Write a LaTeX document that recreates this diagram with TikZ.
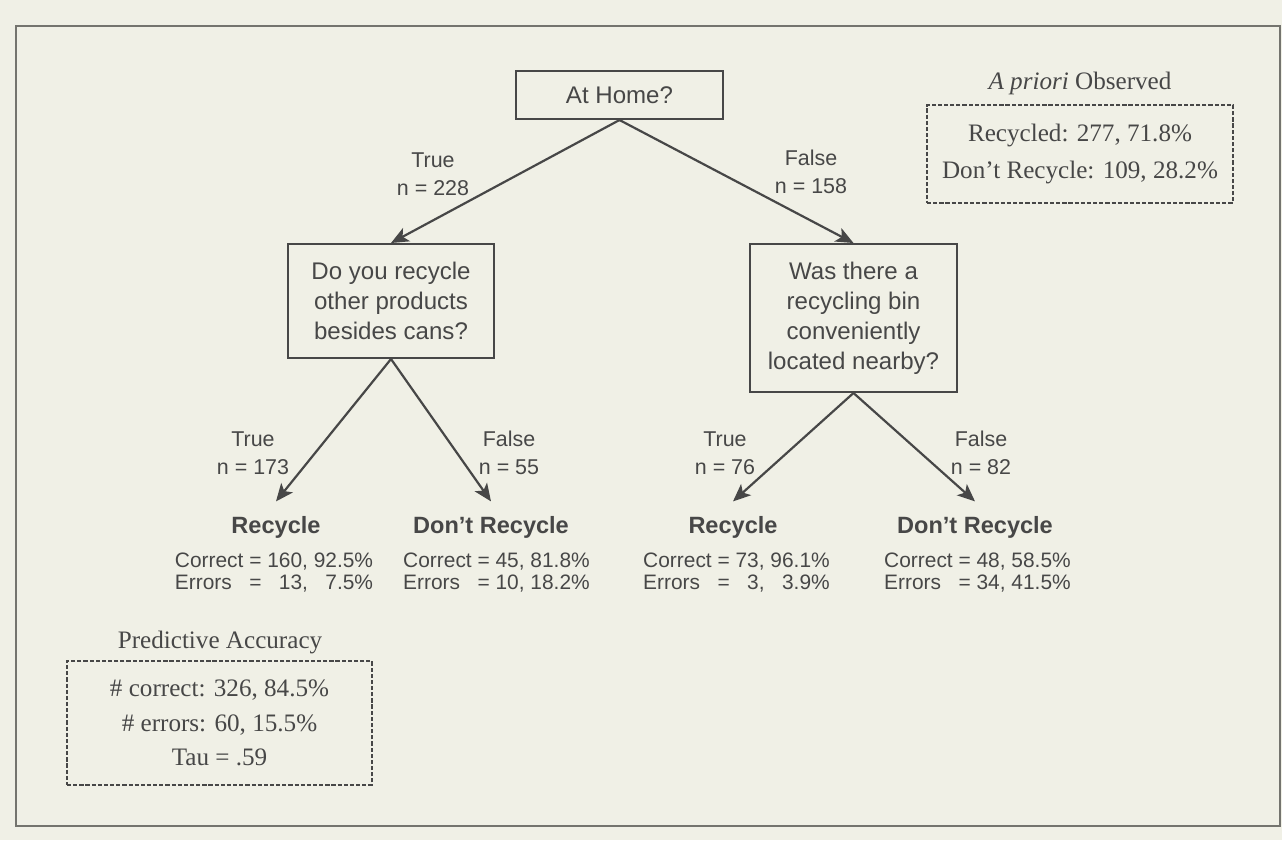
\documentclass[tikz,border=0pt]{standalone}
\usepackage{fontspec}
\setmainfont{Liberation Serif}
\setsansfont{Liberation Sans}
\usetikzlibrary{arrows.meta}
\definecolor{ink}{HTML}{474747}
\definecolor{paper}{HTML}{F0F0E6}
\definecolor{rim}{HTML}{74746E}
\newcommand{\leafstats}[4]{%
  \begin{tabular}{@{}l@{\ }c@{\ }r@{,\ }r@{}}
    Correct & = & #1 & #2\% \\
    Errors  & = & #3 & #4\%
  \end{tabular}}
\tikzset{%
  question/.style = {shape=rectangle, draw=ink, line width=1.15pt,%
                     align=center, inner sep=0pt, minimum width=4.14cm,%
                     text=ink, font=\sffamily\fontsize{13.7}{17}\selectfont},%
  verdict/.style  = {text=ink, outer sep=5pt,%
                     font=\sffamily\bfseries\fontsize{13.4}{16}\selectfont},%
  tally/.style    = {text=ink, inner sep=0pt,%
                     font=\sffamily\fontsize{11.9}{12.6}\selectfont},%
  branch/.style   = {align=center, text=ink,%
                     font=\sffamily\fontsize{12.2}{16}\selectfont},%
  summary/.style  = {shape=rectangle, draw=ink, line width=1.5pt,%
                     dash pattern=on 2.4pt off 1.1pt,%
                     align=center, inner sep=0pt, text=ink,%
                     font=\fontsize{14.3}{21}\selectfont},%
  heading/.style  = {text=ink, font=\fontsize{14.3}{17}\selectfont}%
}

\begin{document}
\begin{tikzpicture}[x=0.02cm, y=-0.02cm,
	arr/.style={draw=ink, line width=1.25pt,
		-{Stealth[length=10pt,width=8.5pt,inset=2.5pt]}}]
		\fill[paper] (0,0) rectangle (1282,840);
		\useasboundingbox (0,0) rectangle (1282,840);
		\draw[rim, line width=1.2pt] (16,26) rectangle (1280,826);
		\node[question, minimum height=0.96cm] (home) at (619.5,95) {At Home?};
		\node[question, minimum height=2.28cm] (q1) at (391,301)
			{Do you recycle\\other products\\besides cans?};
		\node[question, minimum height=2.96cm] (q2) at (853.5,318)
			{Was there a\\recycling bin\\conveniently\\located nearby?};
		\node[verdict] (r1) at (276,527) {Recycle};
		\node[verdict] (d1) at (491,527) {Don't Recycle};
		\node[verdict] (r2) at (733,527) {Recycle};
		\node[verdict] (d2) at (975,527) {Don't Recycle};
		\node[tally] (t1) at (274,574) {\leafstats{160}{92.5}{13}{7.5}};
		\node[tally] (t2) at (496.5,574) {\leafstats{45}{81.8}{10}{18.2}};
		\node[tally] (t3) at (736.5,574) {\leafstats{73}{96.1}{3}{3.9}};
		\node[tally] (t4) at (977.5,574) {\leafstats{48}{58.5}{34}{41.5}};
		\node[branch] (b1) at (433,174.5) {True\\n = 228};
		\node[branch] (b2) at (811,171.5) {False\\n = 158};
		\node[branch] (b3) at (253,453) {True\\n = 173};
		\node[branch] (b4) at (509,453) {False\\n = 55};
		\node[branch] (b5) at (725,453) {True\\n = 76};
		\node[branch] (b6) at (981,453) {False\\n = 82};
		\draw[arr] (home.south) -- (q1.north);
		\draw[arr] (home.south) -- (q2.north);
		\draw[arr] (q1.south) -- (r1.north);
		\draw[arr] (q1.south) -- (d1.north);
		\draw[arr] (q2.south) -- (r2.north);
		\draw[arr] (q2.south) -- (d2.north);
		\node[heading] (prihead) at (1080,83) {\textit{A priori} Observed};
		\node[summary, minimum width=6.12cm, minimum height=1.96cm] (prior)
			at (1080,154) {Recycled: 277, 71.8\%\\Don't Recycle: 109, 28.2\%};
		\node[heading] (acchead) at (220,642) {Predictive Accuracy};
		\node[summary, minimum width=6.1cm, minimum height=2.48cm,
			font=\fontsize{14.3}{19.5}\selectfont] (acc) at (219.5,723)
			{\# correct: 326, 84.5\%\\\# errors: 60, 15.5\%\\Tau = .59};
	\end{tikzpicture}
\end{document}
